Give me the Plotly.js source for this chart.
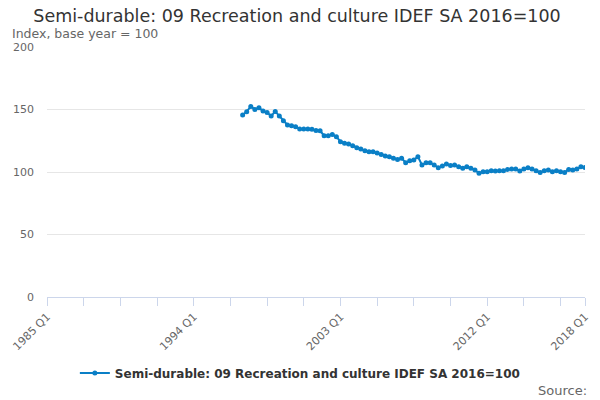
<!DOCTYPE html>
<html>
<head>
<meta charset="utf-8">
<script src="https://cdn.plot.ly/plotly-3.0.1.min.js"></script>
<style>html,body{margin:0;padding:0;background:#fff;}#chart{width:600px;height:400px;}</style>
</head>
<body>
<div id="chart"></div>
<script>
// Quarter labels 1985 Q1 .. 2018 Q1
var quarters = [];
for (var y = 1985; y <= 2018; y++) {
  for (var q = 1; q <= 4; q++) {
    if (y === 2018 && q > 1) break;
    quarters.push(y + ' Q' + q);
  }
}
// Series values 1997 Q1 .. 2018 Q1 (earlier quarters have no data)
var firstDataQuarter = '1997 Q1';
var values = [
  145.6, 148.3, 152.5, 150.1, 151.5, 148.8, 147.7, 144.8,
  148.5, 144.8, 141.0, 137.6, 137.0, 136.3, 134.4, 134.4,
  134.4, 134.2, 133.3, 133.0, 129.0, 129.0, 130.0, 128.3,
  124.3, 123.0, 122.4, 121.0, 119.5, 118.4, 117.0, 116.3,
  116.3, 115.2, 114.1, 112.8, 112.3, 111.0, 110.0, 111.0,
  107.5, 109.0, 109.6, 112.3, 105.6, 107.5, 107.5, 105.6,
  103.5, 104.8, 106.4, 105.3, 105.6, 104.3, 103.0, 104.3,
  103.0, 101.6, 99.0, 100.3, 100.3, 101.1, 100.8, 101.1,
  101.1, 102.1, 102.4, 102.4, 100.8, 102.4, 103.5, 102.4,
  101.1, 99.7, 101.1, 101.6, 100.3, 101.1, 100.3, 99.7,
  102.1, 101.6, 102.4, 104.3, 103.7
];
var labelledTicks = ['1985 Q1', '1994 Q1', '2003 Q1', '2012 Q1', '2018 Q1'];
var seriesName = 'Semi-durable: 09 Recreation and culture IDEF SA 2016=100';
var subtitle = 'Index, base year = 100';

var offset = quarters.indexOf(firstDataQuarter);
var xs = [], ys = [];
for (var i = 0; i < quarters.length; i++) {
  xs.push(i);
  var v = i - offset;
  ys.push(v >= 0 && v < values.length ? values[v] : null);
}
var tickvals = [], ticktext = [];
for (var t = 0; t < quarters.length; t += 9) {
  tickvals.push(t);
  ticktext.push(labelledTicks.indexOf(quarters[t]) >= 0 ? quarters[t] : '');
}
tickvals.push(quarters.length - 1);
ticktext.push(quarters[quarters.length - 1]);

var font = 'DejaVu Sans, sans-serif';
var trace = {
  x: xs, y: ys, type: 'scatter', mode: 'lines+markers',
  name: '<b>' + seriesName + '</b>',
  text: quarters,
  line: {color: '#0a7fc6', width: 2},
  marker: {color: '#0a7fc6', size: 5},
  connectgaps: false,
  hoverinfo: 'text+y'
};
var layout = {
  width: 600, height: 400,
  margin: {l: 47, r: 15, t: 47, b: 103},
  paper_bgcolor: '#fff', plot_bgcolor: '#fff',
  font: {family: font, color: '#666'},
  title: {text: seriesName, x: 0.495, xref: 'container', xanchor: 'center',
          y: 0.96, yref: 'container', yanchor: 'middle',
          font: {family: font, size: 17.5, color: '#333'}},
  xaxis: {range: [0, quarters.length - 1], tickmode: 'array', tickvals: tickvals, ticktext: ticktext,
          tickangle: -45, ticks: 'outside', ticklen: 8, tickcolor: '#ccd6eb', tickwidth: 1,
          showline: true, linecolor: '#ccd6eb', linewidth: 1, showgrid: false, zeroline: false,
          tickfont: {family: font, size: 11, color: '#666'}},
  yaxis: {range: [0, 200], dtick: 50, tick0: 0, showgrid: true, gridcolor: '#e6e6e6', gridwidth: 1,
          zeroline: false, showline: false, ticks: '', ticklabelstandoff: 12,
          tickfont: {family: font, size: 11, color: '#666'}},
  showlegend: true,
  legend: {orientation: 'h', x: 0.47, xanchor: 'center', y: -0.304, yanchor: 'middle',
           font: {family: font, size: 12, color: '#333'}, itemwidth: 30},
  annotations: [
    {text: subtitle, xref: 'paper', yref: 'paper', x: -37 / 538, y: 1.054, xanchor: 'left', yanchor: 'middle',
     showarrow: false, font: {family: font, size: 12.5, color: '#666'}},
    {text: 'Source:', xref: 'paper', yref: 'paper', x: 542 / 538, y: -93 / 250, xanchor: 'right', yanchor: 'middle',
     showarrow: false, font: {family: font, size: 13, color: '#666'}}
  ]
};
Plotly.newPlot('chart', [trace], layout, {staticPlot: true, displayModeBar: false});
</script>
</body>
</html>
